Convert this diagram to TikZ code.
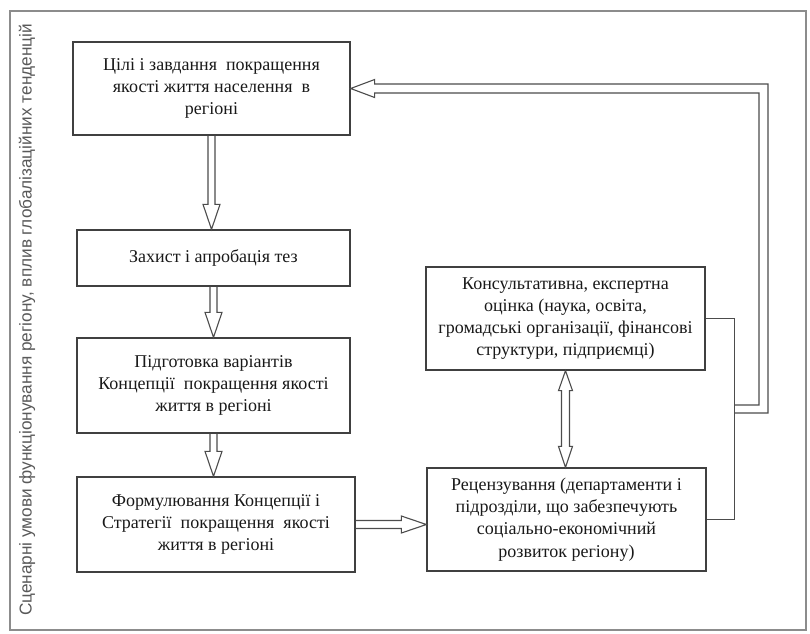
\documentclass[tikz,border=0pt]{standalone}
\usepackage{fontspec}
\setmainfont{Liberation Serif}
\newfontfamily\sidefont{Liberation Sans}
\usetikzlibrary{calc}
\tikzset{
  box/.style={draw=black!75, line width=1.3pt, align=center, inner sep=0pt,
    font=\fontsize{18}{22.3}\selectfont, text=black!90},
  arr/.style={draw=black!70, line width=1.1pt, line join=miter},
  thinl/.style={draw=black!70, line width=0.9pt},
  frame/.style={draw=black!45, line width=1.2pt}
}
\newcommand\vhollow[2]{%
  \coordinate (T) at (#1.south |- #2.north);
  \draw[arr] ($(#1.south)+(-3.5,0)$) -- ($(T)+(-3.5,-25)$) -- ($(T)+(-8.5,-25)$)
    -- (T) -- ($(T)+(8.5,-25)$) -- ($(T)+(3.5,-25)$) -- ($(#1.south)+(3.5,0)$);}
\begin{document}
\begin{tikzpicture}[x=1pt,y=-1pt]
\useasboundingbox (0,0) rectangle (810,633);
\draw[frame] (10,11) rectangle (806,630);
\node[rotate=90, text=black!65, font=\sidefont\fontsize{17.2}{20}\selectfont] (side) at (27,320)
  {Сценарні умови функціонування регіону, вплив глобалізаційних тенденцій};

\node[box, minimum width=277pt, minimum height=93pt] (b1) at (211.5,88.5)
  {Цілі і завдання \ покращення\\якості життя населення \ в\\регіоні};
\node[box, minimum width=273pt, minimum height=56pt] (b2) at (213.5,258)
  {Захист і апробація тез};
\node[box, minimum width=273pt, minimum height=95pt] (b3) at (213.5,385.5)
  {Підготовка варіантів\\Концепції \ покращення якості\\життя в регіоні};
\node[box, minimum width=278pt, minimum height=95pt] (b4) at (216,524.5)
  {Формулювання Концепції і\\Стратегії \ покращення \ якості\\життя в регіоні};
\node[box, minimum width=279pt, minimum height=103pt] (b5) at (566.5,519.5)
  {Рецензування (департаменти і\\підрозділи, що забезпечують\\соціально-економічний\\розвиток регіону)};
\node[box, minimum width=279pt, minimum height=103pt] (b6) at (565.5,318.5)
  {Консультативна, експертна\\оцінка (наука, освіта,\\громадські організації, фінансові\\структури, підприємці)};

\vhollow{b1}{b2}
\vhollow{b2}{b3}
\vhollow{b3}{b4}

% horizontal arrow b4 -> b5
\coordinate (H) at (b4.east -| b5.west);
\draw[arr] ($(b4.east)+(0,-4)$) -- ($(H)+(-25,-4)$) -- ($(H)+(-25,-8.5)$) -- (H)
  -- ($(H)+(-25,8.5)$) -- ($(H)+(-25,4)$) -- ($(b4.east)+(0,4)$);

% double arrow b6 <-> b5
\coordinate (D1) at (b6.south);
\coordinate (D2) at (b6.south |- b5.north);
\draw[arr] (D1) -- ($(D1)+(7,20)$) -- ($(D1)+(4,20)$) -- ($(D2)+(4,-21)$) -- ($(D2)+(7,-21)$)
  -- (D2) -- ($(D2)+(-7,-21)$) -- ($(D2)+(-4,-21)$) -- ($(D1)+(-4,20)$) -- ($(D1)+(-7,20)$) -- cycle;

% bracket
\draw[thinl] (b6.east) -- ++(29,0) coordinate (bk) |- (b5.east);
\coordinate (jn) at (bk |- 0,409);

% feedback double line to b1
\coordinate (F) at (b1.east);
\draw[arr] ($(jn)+(0,4)$) -- (768,413) -- (768,84) -- ($(F)+(24,-4.5)$) -- ($(F)+(24,-9)$)
  -- (F) -- ($(F)+(24,9)$) -- ($(F)+(24,4.5)$) -- (759,93) -- (759,405) -- ($(jn)+(0,-4)$);
\end{tikzpicture}
\end{document}
